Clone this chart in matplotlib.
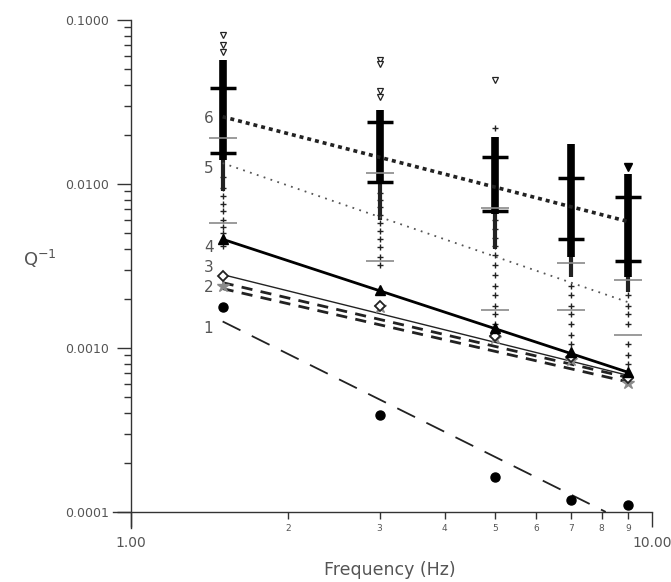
import matplotlib
matplotlib.use("Agg")
import matplotlib.pyplot as plt
from matplotlib.ticker import FixedLocator, FixedFormatter, NullFormatter

# frequencies of the measurement columns (Hz)
freqs = [1.5, 3, 5, 7, 9]

# individual Q^-1 groups (1..4) at each frequency
q1_circles = [0.00178, 0.00039, 0.000163, 0.000118, 0.000110]
q2_stars = [0.0024, 0.00178, 0.00115, 0.00085, 0.00061]
q3_diamonds = [0.00275, 0.0018, 0.00118, 0.00088, 0.00066]
q4_triangles = [0.0046, 0.00226, 0.00132, 0.00095, 0.00071]

# dense coda Q^-1 clouds: (top, bottom) of the solid part and the looser tail
dense_top = [0.057, 0.0282, 0.0194, 0.0175, 0.0115]
dense_bot = [0.014, 0.0101, 0.0066, 0.0036, 0.0027]
tail_bot = [0.009, 0.0060, 0.0040, 0.0027, 0.0022]

# loose points above / below the clouds
open_tri_pts = [[0.081, 0.07, 0.064], [0.057, 0.054, 0.037, 0.034], [0.043], [], []]
filled_tri_pts = [[], [], [], [], [0.0127]]
plus_pts = [
    [0.011, 0.0095, 0.0085, 0.0075, 0.0068, 0.006, 0.0055, 0.005, 0.0042],
    [0.0088, 0.008, 0.0072, 0.0065, 0.0058, 0.0052, 0.0046, 0.0041, 0.0036, 0.0032],
    [0.022, 0.006, 0.0053, 0.0047, 0.0042, 0.0037, 0.0032, 0.0028, 0.0024, 0.0021, 0.0018, 0.0016, 0.0014],
    [0.0024, 0.0021, 0.0018, 0.0016, 0.0014, 0.0012, 0.00105],
    [0.0021, 0.0018, 0.0016, 0.0014, 0.00105, 0.0009, 0.0008],
]

# mean +/- spread marks (black = group 6, grey = group 5)
black_hi = [0.0385, 0.0239, 0.0146, 0.0109, 0.0083]
black_lo = [0.0155, 0.0103, 0.0068, 0.0046, 0.0034]
grey_hi = [0.019, 0.0117, 0.0071, 0.0033, 0.0026]
grey_lo = [0.0058, 0.0034, 0.0017, 0.0017, 0.0012]

# fitted lines: start / end frequency and Q^-1
fit_f0 = [1.5, 1.5, 1.5, 1.5, 1.5, 1.5, 1.5]
fit_f1 = [8.15, 9, 9, 9, 9, 9, 9]
fit_q0 = [0.00145, 0.0025, 0.0023, 0.0028, 0.0046, 0.0134, 0.0257]
fit_q1 = [0.0001, 0.00066, 0.00062, 0.00068, 0.00071, 0.0019, 0.0059]

curve_names = ["1", "2", "3", "4", "5", "6"]
curve_label_q = [0.00132, 0.00232, 0.0031, 0.0041, 0.0125, 0.0252]

fig = plt.figure(figsize=(6.71, 5.82), dpi=100)
ax = fig.add_axes([0.1684, 0.0928, 0.8033, 0.8729])
ax.set_xscale("log")
ax.set_yscale("log")

dark = "#222222"
grey = "#8a8a8a"
txt = "#555555"

# clouds
for i, f in enumerate(freqs):
    ax.vlines(f, tail_bot[i], dense_bot[i], color=dark, lw=3, zorder=2)
    ax.vlines(f, dense_bot[i], dense_top[i], color="black", lw=5.5, zorder=2)
    ax.plot([f] * len(plus_pts[i]), plus_pts[i], "+", color=dark, ms=5, mew=1, zorder=3)
    ax.plot([f] * len(open_tri_pts[i]), open_tri_pts[i], "v", mfc="white", mec=dark, ms=5, mew=0.9, zorder=3)
    ax.plot([f] * len(filled_tri_pts[i]), filled_tri_pts[i], "v", color="black", ms=6, zorder=3)

ax.plot(freqs, grey_hi, "_", color=grey, ms=20, mew=1.2, zorder=4)
ax.plot(freqs, grey_lo, "_", color=grey, ms=20, mew=1.2, zorder=4)
ax.plot(freqs, black_hi, "_", color="black", ms=19, mew=2.5, zorder=4)
ax.plot(freqs, black_lo, "_", color="black", ms=19, mew=2.5, zorder=4)

# fitted lines
styles = [
    dict(color=dark, lw=1.3, ls=(0, (11, 7))),
    dict(color=dark, lw=2.0, ls=(0, (4, 3))),
    dict(color=dark, lw=2.0, ls=(0, (4, 3))),
    dict(color=dark, lw=1.0, ls="-"),
    dict(color="black", lw=2.0, ls="-"),
    dict(color="#555555", lw=1.3, ls=(0, (1, 3))),
    dict(color=dark, lw=2.6, ls=(0, (1.1, 1.1))),
]
for i in range(len(fit_f0)):
    ax.plot([fit_f0[i], fit_f1[i]], [fit_q0[i], fit_q1[i]], zorder=5, **styles[i])

# group markers
ax.plot(freqs, q1_circles, "o", color="black", ms=6.5, zorder=6)
ax.plot(freqs, q2_stars, "*", color=grey, ms=9, zorder=6)
ax.plot(freqs, q3_diamonds, "D", mfc="white", mec=dark, ms=5.5, mew=1.3, zorder=6)
ax.plot(freqs, q4_triangles, "^", color="black", ms=7.5, zorder=6)

for name, q in zip(curve_names, curve_label_q):
    ax.text(1.44, q, name, ha="right", va="center", fontsize=11, color=txt)

# axes
ax.set_xlim(0.924, 10)
ax.set_ylim(7.98e-5, 0.1)
ax.spines["top"].set_visible(False)
ax.spines["right"].set_visible(False)
ax.spines["left"].set_position(("data", 1.0))
ax.spines["bottom"].set_position(("data", 1e-4))
for s in ["left", "bottom"]:
    ax.spines[s].set_color("#333333")
    ax.spines[s].set_linewidth(1.0)

ax.xaxis.set_major_locator(FixedLocator([1, 10]))
ax.xaxis.set_major_formatter(FixedFormatter(["1.00", "10.00"]))
ax.xaxis.set_minor_locator(FixedLocator([2, 3, 4, 5, 6, 7, 8, 9]))
ax.xaxis.set_minor_formatter(FixedFormatter(["2", "3", "4", "5", "6", "7", "8", "9"]))
ax.tick_params(axis="x", which="major", length=11, width=1, pad=6, labelsize=10, colors="#333333", labelcolor=txt)
ax.tick_params(axis="x", which="minor", length=5, width=1, pad=4, labelsize=6.5, colors="#333333", labelcolor=txt)

yt = [0.0001, 0.001, 0.01, 0.1]
ax.yaxis.set_major_locator(FixedLocator(yt))
ax.yaxis.set_major_formatter(FixedFormatter(["%.4f" % v for v in yt]))
ymin = [m * d for d in [0.0001, 0.001, 0.01] for m in range(2, 10)]
ax.yaxis.set_minor_locator(FixedLocator(ymin))
ax.yaxis.set_minor_formatter(NullFormatter())
ax.tick_params(axis="y", which="major", length=10, width=1, pad=6, labelsize=9, colors="#333333", labelcolor=txt)
ax.tick_params(axis="y", which="minor", length=5, width=1, colors="#333333")

ax.set_ylabel("Q$^{\\mathregular{-1}}$", rotation=0, fontsize=13, color=txt)
ax.yaxis.set_label_coords(-0.135, 0.508)
ax.set_xlabel("Frequency (Hz)", fontsize=12.5, color=txt, va="center")
ax.xaxis.set_label_coords(0.514, -0.082)

fig.savefig("out.png", dpi=100)
